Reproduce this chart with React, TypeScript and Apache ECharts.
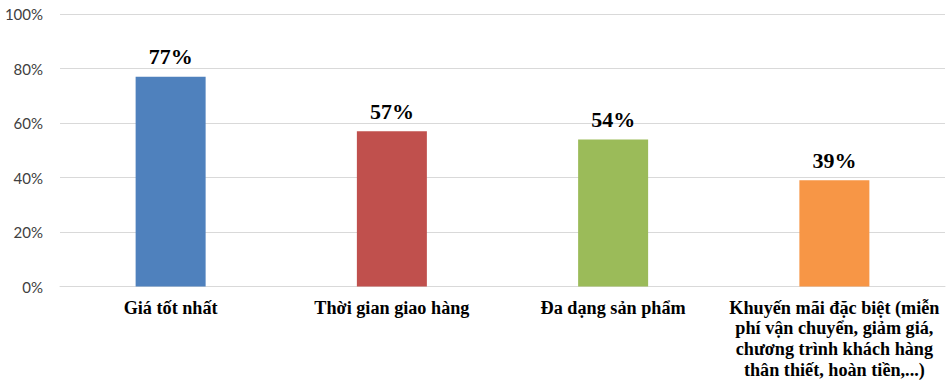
import React, { useEffect, useRef } from "react";
import * as echarts from "echarts";

const categories = [
  "Giá tốt nhất",
  "Thời gian giao hàng",
  "Đa dạng sản phẩm",
  "Khuyến mãi đặc biệt (miễn\nphí vận chuyển, giảm giá,\nchương trình khách hàng\nthân thiết, hoàn tiền,...)",
];
const values = [77, 57, 54, 39];
const colors = ["#4f81bd", "#c0504d", "#9bbb59", "#f79646"];
const yTicks = [0, 20, 40, 60, 80, 100];

export default function App() {
  const ref = useRef<HTMLDivElement>(null);
  useEffect(() => {
    document.body.style.margin = "0";
    if (!ref.current) return;
    const chart = echarts.init(ref.current, undefined, { renderer: "svg" });
    chart.setOption({
      animation: false,
      grid: { left: 60, right: 2, top: 14, bottom: 93, containLabel: false },
      xAxis: {
        type: "category",
        data: categories,
        axisLine: { show: true, lineStyle: { color: "#d9d9d9", width: 1 } },
        axisTick: { show: false },
        axisLabel: {
          interval: 0,
          margin: 11,
          color: "#000",
          fontFamily: "Liberation Serif",
          fontWeight: "bold",
          fontSize: 18.2,
          lineHeight: 20.6,
        },
      },
      yAxis: {
        type: "value",
        min: yTicks[0],
        max: yTicks[yTicks.length - 1],
        interval: 20,
        axisLine: { show: false },
        axisTick: { show: false },
        splitLine: { lineStyle: { color: "#d9d9d9", width: 1 } },
        axisLabel: {
          margin: 17,
          color: "#404040",
          fontFamily: "Lato",
          fontSize: 15,
          formatter: (v: number) => `${v}%`,
        },
      },
      series: [
        {
          type: "bar",
          barWidth: 70,
          data: values.map((v, i) => ({ value: v, itemStyle: { color: colors[i] } })),
          label: {
            show: true,
            position: "top",
            distance: 9,
            color: "#000",
            fontFamily: "Liberation Serif",
            fontWeight: "bold",
            fontSize: 22,
            formatter: (p: any) => `${p.value}%`,
          },
        },
      ],
    });
    return () => chart.dispose();
  }, []);
  return <div ref={ref} style={{ width: 947, height: 380 }} />;
}
